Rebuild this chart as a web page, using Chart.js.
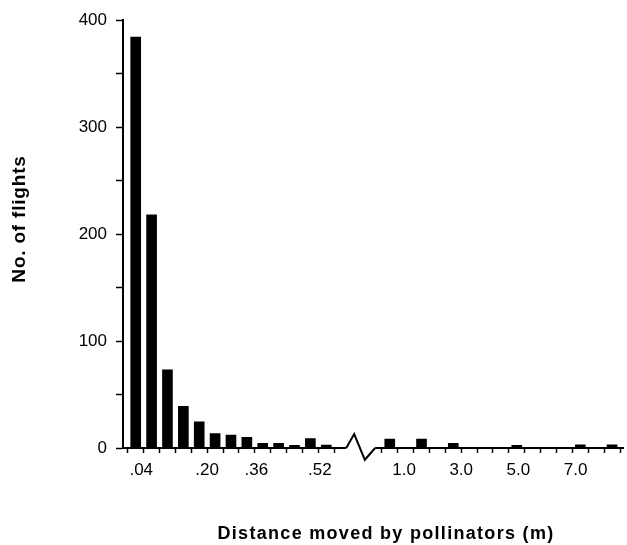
<!DOCTYPE html>
<html>
<head>
<meta charset="utf-8">
<script src="https://cdn.jsdelivr.net/npm/chart.js@4/dist/chart.umd.min.js"></script>
<style>
    html, body { margin: 0; padding: 0; background: #ffffff; }
    #wrap { width: 627px; height: 545px; }
</style>
</head>
<body>
<div id="wrap"><canvas id="flightChart" width="627" height="545"></canvas></div>
<script>
// Flight counts per distance bin, short distances (left of the axis break)
const nearCounts = [384, 218, 73, 39, 24.5, 13.5, 12, 10, 4.3, 4.3, 2.5, 8.7, 2.8];
// Flight counts per distance bin, long distances (right of the axis break)
const farCounts = [8.4, 0, 8.4, 0, 4.4, 0, 0, 0, 2.5, 0, 0, 0, 3, 0, 3];
// Tick labels on the distance axis and the bin position each one sits at
const xTickLabels = ['.04', '.20', '.36', '.52', '1.0', '3.0', '5.0', '7.0'];
const xTickSlots = [0.85, 5, 8.1, 12.1, 17.4, 21, 24.6, 28.2];
const yTicks = [0, 100, 200, 300, 400];

const BREAK_SLOTS = 3; // empty bins taken by the zigzag break
const farStart = nearCounts.length + BREAK_SLOTS;
const totalSlots = farStart + farCounts.length;

const points = [];
nearCounts.forEach((v, i) => points.push({ x: i + 0.5, y: v }));
farCounts.forEach((v, i) => points.push({ x: farStart + i + 0.5, y: v }));

const FONT = "'Liberation Sans', Arial, Helvetica, sans-serif";

// Axis break zigzag and the two axis titles
const extrasPlugin = {
    id: 'extras',
    afterDraw(chart) {
        const ctx = chart.ctx;
        const xs = chart.scales.x;
        const ys = chart.scales.y;
        const base = ys.getPixelForValue(0);
        const a = xs.getPixelForValue(nearCounts.length + 0.76);
        const b = xs.getPixelForValue(nearCounts.length + 1.26);
        const c = xs.getPixelForValue(nearCounts.length + 1.93);
        const d = xs.getPixelForValue(farStart - 0.42);

        ctx.save();
        ctx.fillStyle = '#ffffff';
        ctx.fillRect(a, base - 2, d - a, 4);
        ctx.strokeStyle = '#000000';
        ctx.lineWidth = 2;
        ctx.beginPath();
        ctx.moveTo(a, base);
        ctx.lineTo(b, ys.getPixelForValue(13));
        ctx.lineTo(c, ys.getPixelForValue(-11));
        ctx.lineTo(d, base);
        ctx.stroke();

        ctx.fillStyle = '#000000';
        ctx.textAlign = 'center';
        ctx.textBaseline = 'alphabetic';
        ctx.font = 'bold 18px ' + FONT;
        ctx.letterSpacing = '1.3px';
        ctx.fillText('Distance moved by pollinators (m)', 386, 539);

        ctx.translate(25, 219);
        ctx.rotate(-Math.PI / 2);
        ctx.font = 'bold 19px ' + FONT;
        ctx.letterSpacing = '0.8px';
        ctx.fillText('No. of flights', 0, 0);
        ctx.restore();
    }
};

new Chart(document.getElementById('flightChart'), {
    type: 'bar',
    data: {
        datasets: [{
            label: 'No. of flights',
            data: points,
            backgroundColor: '#000000',
            borderWidth: 0,
            barThickness: 10
        }]
    },
    options: {
        responsive: false,
        animation: false,
        layout: {
            padding: { top: 20, right: 0, bottom: 60, left: 70 }
        },
        plugins: {
            legend: { display: false },
            tooltip: { enabled: false }
        },
        scales: {
            x: {
                type: 'linear',
                min: -0.3,
                max: totalSlots + 0.2,
                offset: false,
                afterFit(scale) { scale.height = 37; },
                afterBuildTicks(scale) {
                    const ticks = [];
                    for (let i = 0; i <= totalSlots; i++) {
                        if (i > nearCounts.length && i < farStart) continue;
                        ticks.push({ value: i, text: '' });
                    }
                    xTickSlots.forEach((s, i) => ticks.push({ value: s, text: xTickLabels[i], labelOnly: true }));
                    ticks.sort((p, q) => p.value - q.value);
                    scale.ticks = ticks;
                },
                grid: {
                    offset: false,
                    drawOnChartArea: false,
                    drawTicks: true,
                    tickLength: 5,
                    tickWidth: 1.5,
                    tickColor: (ctx) => (ctx.tick && ctx.tick.labelOnly) ? 'rgba(0,0,0,0)' : '#000000'
                },
                border: { display: true, color: '#000000', width: 2 },
                ticks: {
                    autoSkip: false,
                    maxRotation: 0,
                    padding: 7,
                    color: '#000000',
                    font: { size: 17, family: FONT },
                    callback: function (value, index, ticks) {
                        return ticks[index].text || '';
                    }
                }
            },
            y: {
                min: 0,
                max: 400,
                afterFit(scale) { scale.width = 53; },
                grid: {
                    drawOnChartArea: false,
                    drawTicks: true,
                    tickLength: 7,
                    tickWidth: 1.5,
                    tickColor: '#000000'
                },
                border: { display: true, color: '#000000', width: 2 },
                ticks: {
                    stepSize: 50,
                    padding: 9,
                    color: '#000000',
                    font: { size: 17, family: FONT },
                    callback: function (value) {
                        return yTicks.includes(value) ? String(value) : '';
                    }
                }
            }
        }
    },
    plugins: [extrasPlugin]
});
</script>
</body>
</html>
